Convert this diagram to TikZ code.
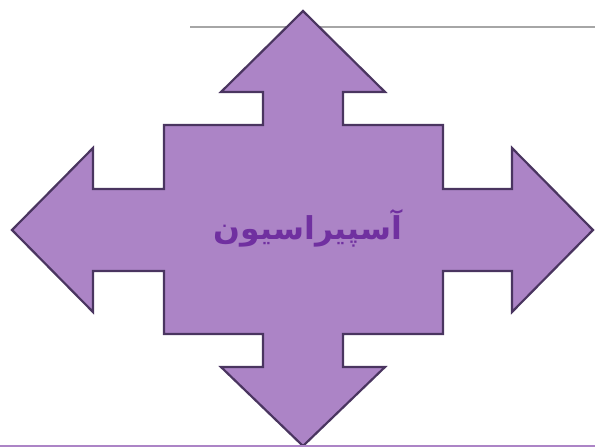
\documentclass[tikz,border=0pt]{standalone}
\usepackage{fontspec}
\usepackage{xcolor}
\TeXXeTstate=1
\newfontfamily\arabicfont[Script=Arabic]{DejaVu Sans}
\definecolor{lavender}{HTML}{AC84C6}
\definecolor{plumline}{HTML}{4A3560}
\definecolor{titlepurple}{HTML}{7030A0}
\definecolor{rulegray}{HTML}{A6A6A6}
\usetikzlibrary{positioning}
\tikzstyle{crossarrow} = [
    fill=lavender,
    draw=plumline,
    line width=2.2pt,
    line join=miter
]
\tikzstyle{title} = [
    text=titlepurple,
    font=\arabicfont\bfseries\fontsize{31.5}{36}\selectfont
]

\begin{document}
\begin{tikzpicture}[x=1pt, y=-1pt]
    \useasboundingbox (0,0) rectangle (595,447);
    % Top rule
    \coordinate (ruleL) at (190,27);
    \coordinate (ruleR) at (595,27);
    \draw[rulegray, line width=1.8pt] (ruleL) -- (ruleR);

    % Four-way arrow
    \draw[crossarrow] (303,11) -- (385,92) -- (343,92) -- (343,125) -- (443,125)
        -- (443,189) -- (512,189) -- (512,148) -- (593,230) -- (512,312)
        -- (512,271) -- (443,271) -- (443,334) -- (343,334) -- (343,367)
        -- (385,367) -- (303,446) -- (221,367) -- (263,367) -- (263,334)
        -- (164,334) -- (164,271) -- (93,271) -- (93,312) -- (12,230)
        -- (93,148) -- (93,189) -- (164,189) -- (164,125) -- (263,125)
        -- (263,92) -- (221,92) -- cycle;

    % Label
    \node[title] (aspiration) at (308,228) {\beginR آسپیراسیون\endR};

    % Bottom rule
    \coordinate (baseL) at (0,446);
    \coordinate (baseR) at (595,446);
    \draw[lavender, line width=2.4pt] (baseL) -- (baseR);
\end{tikzpicture}
\end{document}
